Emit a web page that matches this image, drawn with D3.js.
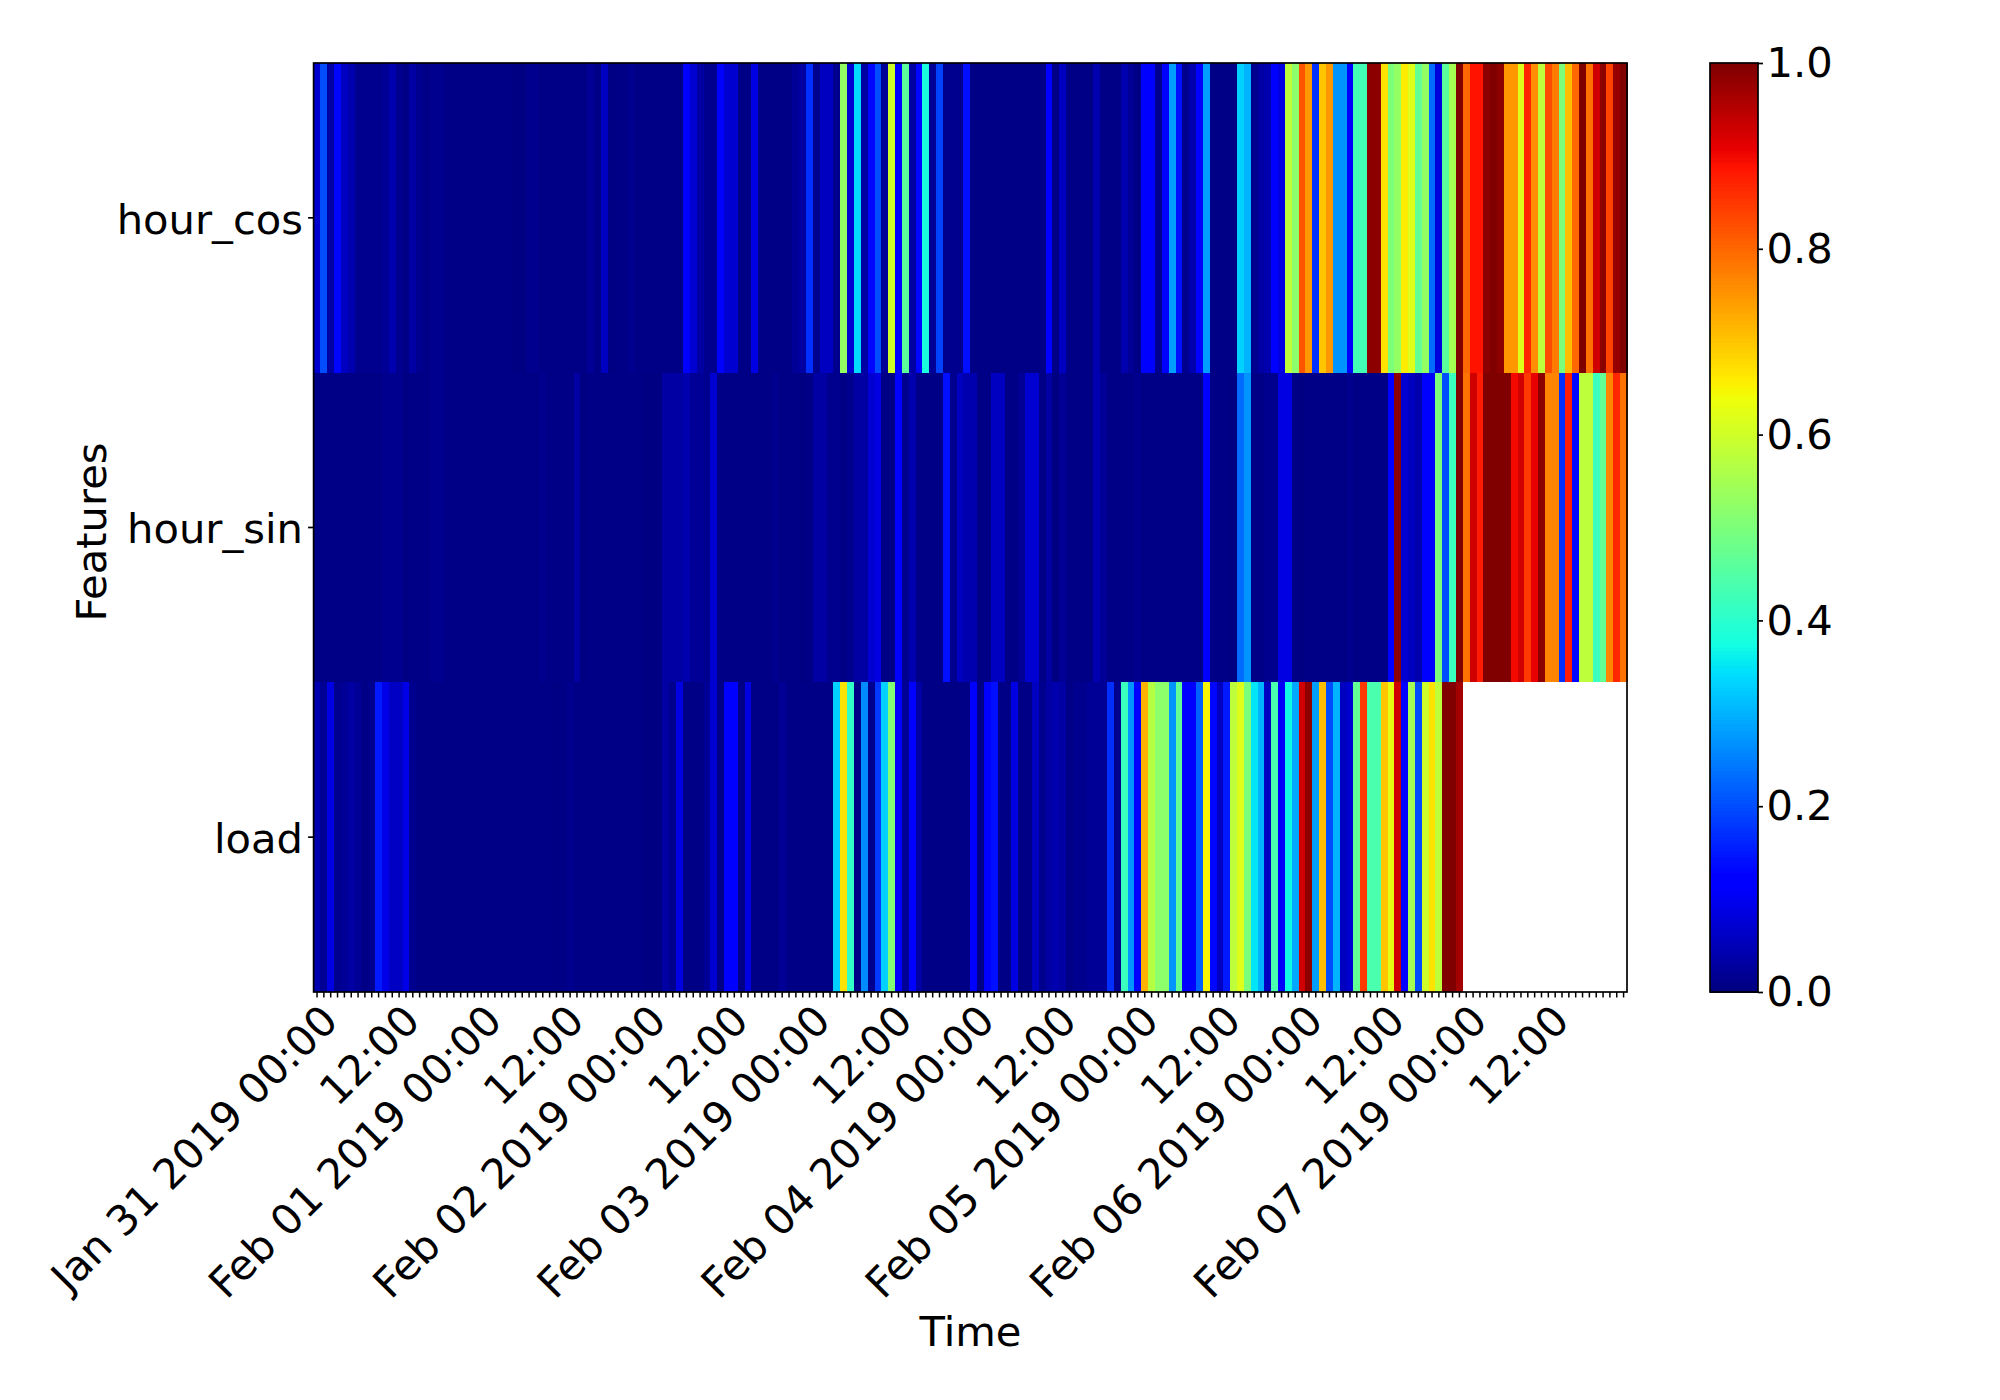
<!DOCTYPE html>
<html><head><meta charset="utf-8">
<script src="https://cdnjs.cloudflare.com/ajax/libs/d3/7.8.5/d3.min.js"></script>
<style>html,body{margin:0;padding:0;background:#fff}svg{display:block}text{font-family:"DejaVu Sans",sans-serif;fill:#000}</style>
</head><body><svg id="c" width="2000" height="1400"></svg>
<script>
const features = ["hour_cos","hour_sin","load"];
const tickLabels = ["Jan 31 2019 00:00","12:00","Feb 01 2019 00:00","12:00","Feb 02 2019 00:00","12:00","Feb 03 2019 00:00","12:00","Feb 04 2019 00:00","12:00","Feb 05 2019 00:00","12:00","Feb 06 2019 00:00","12:00","Feb 07 2019 00:00","12:00"];
const colorTicks = [0,0.2,0.4,0.6,0.8,1];
const hourCos = [
.07,.20,.03,.13,.055,.04,.012,.012,.012,.012,.02,.04,
.012,.005,.03,.012,.005,.012,.012,.005,.005,.005,.005,.005,
.005,.005,.005,.005,.005,.002,.002,.012,.012,.005,.005,.005,
.005,.005,.005,.005,.02,.005,.055,.002,.005,.005,.012,.005,
.005,.005,.005,.005,.005,.005,.11,.07,.03,.012,.012,.12,
.07,.07,.005,.005,.085,.005,.005,.005,.005,.005,.02,.03,
.17,.012,.055,.055,.012,.53,.07,.34,.03,.13,.20,.02,
.60,.12,.46,.03,.13,.38,.02,.19,.012,.012,.012,.14,
.005,.005,.005,.005,.005,.005,.005,.005,.005,.005,.005,.11,
.005,.055,.005,.005,.005,.005,.04,.005,.005,.005,.04,.02,
.005,.11,.11,.012,.11,.28,.14,.012,.04,.12,.28,.005,
.005,.005,.005,.33,.30,.012,.03,.04,.11,.085,.58,.52,
.82,.75,.17,.70,.75,.27,.27,.12,.43,.43,.99,.99,
.67,.50,.53,.66,.62,.47,.53,.23,.08,.46,.55,1,
.80,.89,.89,.99,1,.99,.75,.75,.62,.87,.76,.58,
.83,.78,.50,.71,.80,1,.79,.93,.99,.84,.98,1];
const hourSin = [
.005,.005,.005,.005,.005,.005,.005,.005,.005,.005,.012,.012,
.012,.002,.005,.005,.005,.012,.012,.005,.005,.005,.005,.005,
.005,.005,.005,.005,.005,.005,.005,.005,.005,.012,.005,.005,
.005,.005,.03,.002,.005,.005,.005,.005,.005,.005,.005,.005,
.002,.002,.002,.03,.03,.03,.04,.02,.02,.012,.07,.005,
.005,.005,.005,.005,.005,.005,.005,.012,.005,.005,.005,.002,
.005,.03,.03,.012,.012,.005,.012,.03,.03,.07,.085,.005,
.005,.12,.012,.04,.005,.005,.005,.005,.14,.012,.055,.04,
.04,.005,.005,.055,.055,.005,.005,.02,.07,.07,.005,.03,
.002,.02,.005,.005,.005,.005,.04,.02,.005,.005,.005,.005,
.012,.005,.005,.005,.005,.005,.005,.005,.005,.005,.12,.005,
.005,.005,.002,.23,.27,.005,.005,.012,.012,.085,.085,.005,
.002,.005,.005,.005,.005,.005,.005,.012,.005,.005,.005,.005,
.005,.12,.99,.07,.055,.04,.11,.12,.50,.20,.42,1,
.79,.93,.88,1,1,1,1,.90,.93,.85,.91,.99,
.77,.77,.17,.88,.13,.58,.58,.42,.47,.77,.87,.79];
const load = [
.04,.02,.085,.012,.02,.03,.02,.005,.012,.15,.09,.06,
.06,.09,.012,.005,.005,.005,.005,.005,.005,.005,.005,.005,
.005,.005,.005,.005,.005,.005,.005,.005,.005,.005,.005,.002,
.005,.012,.005,.005,.005,.005,.005,.005,.005,.005,.005,.005,
.002,.002,.002,.03,.012,.085,.005,.005,.005,.02,.07,.005,
.11,.11,.005,.085,.005,.005,.005,.005,.02,.005,.005,.005,
.005,.005,.005,.005,.33,.67,.41,.005,.26,.012,.18,.33,
.51,.12,.02,.12,.03,.005,.005,.005,.005,.005,.005,.005,
.11,.005,.12,.14,.005,.005,.085,.005,.005,.055,.012,.03,
.04,.03,.005,.012,.012,.02,.02,.02,.17,.012,.42,.27,
.11,.72,.57,.52,.52,.27,.47,.12,.12,.22,.65,.13,
.055,.15,.58,.62,.50,.35,.30,.055,.44,.12,.37,.29,
.93,.99,.28,.71,.20,.30,.055,.07,.47,.85,.44,.44,
.70,.63,.93,.12,.55,.20,.60,.67,.58,1,1,.97,
null,null,null,null,null,null,null,null,null,null,null,null,
null,null,null,null,null,null,null,null,null,null,null,null];
const seriesByFeature = [hourCos, hourSin, load];

const L=313.6,R=1627,T=63,B=992,CL=1710,CR=1758,FS=41.67,LW=1.7;
const svg=d3.select("#c");
const hours=d3.range(hourCos.length);
const x=d3.scaleBand().domain(hours).range([L,R]);
const y=d3.scaleBand().domain(features).range([T,B]);
const cy=d3.scaleLinear().domain([0,1]).range([B,T]);
const rr=d3.scaleLinear().domain([0,.35,.66,.89,1]).range([0,0,255,255,128]).clamp(true);
const gg=d3.scaleLinear().domain([0,.125,.375,.64,.91,1]).range([0,0,255,255,0,0]).clamp(true);
const bb=d3.scaleLinear().domain([0,.11,.34,.65,1]).range([128,255,255,0,0]).clamp(true);
const jet=v=>d3.rgb(rr(v),gg(v),bb(v)).formatHex();

features.forEach((f,k)=>{
  svg.append("g").selectAll("rect").data(seriesByFeature[k].map((v,i)=>({v,i})).filter(d=>d.v!==null)).join("rect")
    .attr("x",d=>x(d.i)).attr("y",y(f)).attr("width",x.bandwidth()+.6).attr("height",y.bandwidth())
    .attr("fill",d=>jet(d.v)).attr("shape-rendering","crispEdges");
});
svg.append("rect").attr("x",L).attr("y",T).attr("width",R-L).attr("height",B-T).attr("fill","none").attr("stroke","#000").attr("stroke-width",LW);

// x axis
const gx=svg.append("g").attr("transform",`translate(0,${B})`)
  .call(d3.axisBottom(x).tickSize(5.5).tickPadding(0).tickFormat(()=>""));
gx.select(".domain").remove();
gx.selectAll(".tick line").attr("stroke","#000").attr("stroke-width",1.5);
hours.filter(h=>h%12===0).forEach((h,i)=>{
  const tx=x(h)+x.bandwidth()/2;
  svg.append("text").attr("transform",`translate(${tx+1},${B+9}) rotate(-45)`)
    .attr("y",31).attr("text-anchor","end").attr("font-size",FS).text(tickLabels[i]);
});
// y axis
const gy=svg.append("g").attr("transform",`translate(${L},0)`)
  .call(d3.axisLeft(y).tickSize(5.5).tickPadding(5.1));
gy.select(".domain").remove();
gy.selectAll(".tick line").attr("stroke","#000").attr("stroke-width",1.7);
gy.selectAll(".tick text").attr("font-size",FS).attr("font-family",'"DejaVu Sans"').attr("dy",".38em");
svg.append("text").attr("x",970.5).attr("y",1345.7).attr("text-anchor","middle").attr("font-size",FS).text("Time");
svg.append("text").attr("transform",`translate(105.5,532) rotate(-90)`).attr("text-anchor","middle").attr("font-size",FS).text("Features");

// colour bar
const steps=d3.range(256);
svg.append("g").selectAll("rect").data(steps).join("rect")
  .attr("x",CL).attr("width",CR-CL).attr("y",d=>cy((d+1)/256)).attr("height",cy(0)-cy(1/256)+.6)
  .attr("fill",d=>jet(d/255)).attr("shape-rendering","crispEdges");
svg.append("rect").attr("x",CL).attr("y",T).attr("width",CR-CL).attr("height",B-T).attr("fill","none").attr("stroke","#000").attr("stroke-width",LW);
const gc=svg.append("g").attr("transform",`translate(${CR},0)`)
  .call(d3.axisRight(cy).tickValues(colorTicks).tickSize(5).tickPadding(3.5).tickFormat(d3.format(".1f")));
gc.select(".domain").remove();
gc.selectAll(".tick line").attr("stroke","#000").attr("stroke-width",1.7);
gc.selectAll(".tick text").attr("font-size",FS).attr("font-family",'"DejaVu Sans"').attr("dy",".33em");
</script></body></html>
